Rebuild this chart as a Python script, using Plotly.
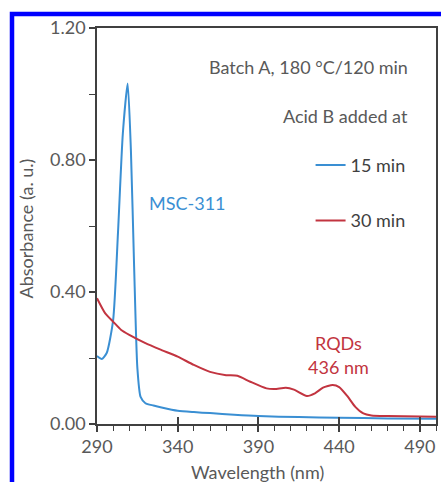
import plotly.graph_objects as go

# ---- data ----
wl_15 = [290, 293, 296, 300, 303, 306, 309, 311, 313, 315, 317, 320, 325, 330, 340, 350, 360, 375, 390, 415, 440, 470, 500]
abs_15 = [0.206, 0.197, 0.215, 0.315, 0.58, 0.88, 1.032, 0.83, 0.476, 0.17, 0.082, 0.063, 0.056, 0.05, 0.040, 0.036, 0.033, 0.028, 0.024, 0.021, 0.019, 0.017, 0.016]

wl_30 = [290, 295, 300, 305, 310, 320, 330, 340, 350, 360, 370, 377, 385, 395, 400, 407, 412, 420, 425, 430, 436, 440, 445, 450, 455, 460, 470, 500]
abs_30 = [0.381, 0.336, 0.31, 0.285, 0.27, 0.245, 0.224, 0.204, 0.179, 0.158, 0.148, 0.146, 0.128, 0.108, 0.106, 0.110, 0.104, 0.085, 0.093, 0.11, 0.118, 0.112, 0.085, 0.052, 0.032, 0.026, 0.024, 0.022]

x_ticks = [290, 340, 390, 440, 490]
y_ticks = [0.0, 0.4, 0.8, 1.2]
y_tick_labels = ["0.00", "0.40", "0.80", "1.20"]

BLUE = "#3a8fd3"
RED = "#c23440"
GRAY = "#595959"
FONT = "Lato"
FS = 18

fig = go.Figure()
fig.add_trace(go.Scatter(x=wl_15, y=abs_15, mode="lines", name="15 min",
                         line=dict(color=BLUE, width=2, shape="spline", smoothing=0.6),
                         legendgroup="a"))
fig.add_trace(go.Scatter(x=wl_30, y=abs_30, mode="lines", name="30 min",
                         line=dict(color=RED, width=2, shape="spline", smoothing=0.6),
                         legendgroup="b"))

fig.update_layout(
    width=441, height=482,
    margin=dict(l=97, r=3, t=28, b=58),
    paper_bgcolor="white", plot_bgcolor="white",
    font=dict(family=FONT, color=GRAY, size=FS),
    showlegend=True,
    legend=dict(x=0.925, xanchor="right", y=0.70, yanchor="top",
                bgcolor="rgba(0,0,0,0)", font=dict(size=FS, color="#404040"),
                tracegroupgap=29, itemwidth=30),
    xaxis=dict(range=[290, 500], tickvals=x_ticks, ticks="outside", ticklen=6,
               tickcolor="#404040", tickwidth=1.5,
               minor=dict(dtick=10, tick0=290, ticks="outside", ticklen=5, tickcolor="#404040", tickwidth=1.2),
               showline=True, linecolor="#404040", linewidth=1.5, mirror=True,
               showgrid=False, zeroline=False, tickfont=dict(size=FS, color=GRAY)),
    xaxis2=dict(range=[290, 500], overlaying="x", anchor="y", side="bottom",
                tickvals=x_ticks, ticks="inside", ticklen=7, tickcolor="#404040", tickwidth=1.5,
                showticklabels=False, showgrid=False, zeroline=False, showline=False),
    yaxis=dict(range=[0, 1.2], tickvals=y_ticks, ticktext=y_tick_labels, ticks="outside", ticklen=6,
               tickcolor="#404040", tickwidth=1.5,
               minor=dict(dtick=0.2, tick0=0, ticks="outside", ticklen=6, tickcolor="#404040", tickwidth=1.2),
               showline=True, linecolor="#404040", linewidth=1.5, mirror=True,
               showgrid=False, zeroline=False, tickfont=dict(size=FS, color=GRAY)),
)

# invisible trace to activate the overlay axis
fig.add_trace(go.Scatter(x=[290], y=[0], xaxis="x2", mode="markers", marker=dict(opacity=0),
                         showlegend=False, hoverinfo="skip"))

def px_x(p):
    return (p - 97) / 341.0

def px_y(p):
    return (424 - p) / 396.0

annos = [
    dict(text="Batch A, 180 °C/120 min", x=px_x(412), y=px_y(67), xanchor="right", font=dict(size=FS, color=GRAY)),
    dict(text="Acid B added at", x=px_x(412), y=px_y(116), xanchor="right", font=dict(size=FS, color=GRAY)),
    dict(text="MSC-311", x=px_x(188), y=px_y(203), xanchor="center", font=dict(size=FS, color=BLUE)),
    dict(text="RQDs", x=px_x(340), y=px_y(343), xanchor="center", font=dict(size=FS, color=RED)),
    dict(text="436 nm", x=px_x(340), y=px_y(367), xanchor="center", font=dict(size=FS, color=RED)),
    dict(text="Absorbance (a. u.)", x=px_x(26), y=px_y(228), xanchor="center", textangle=-90, font=dict(size=FS, color=GRAY)),
    dict(text="Wavelength (nm)", x=px_x(258), y=px_y(472), xanchor="center", font=dict(size=FS, color=GRAY)),
]
for a in annos:
    fig.add_annotation(xref="paper", yref="paper", showarrow=False, yanchor="middle", **a)

fig.add_shape(type="rect", xref="paper", yref="paper",
              x0=px_x(11.5), y0=px_y(14), x1=px_x(470), y1=px_y(520),
              line=dict(color="#0000ff", width=4.5), fillcolor="rgba(0,0,0,0)", layer="above")

fig.write_html("out.html", config={"displayModeBar": False},
               post_script="document.body.style.margin='0';document.body.style.padding='0';document.body.style.overflow='hidden';")
